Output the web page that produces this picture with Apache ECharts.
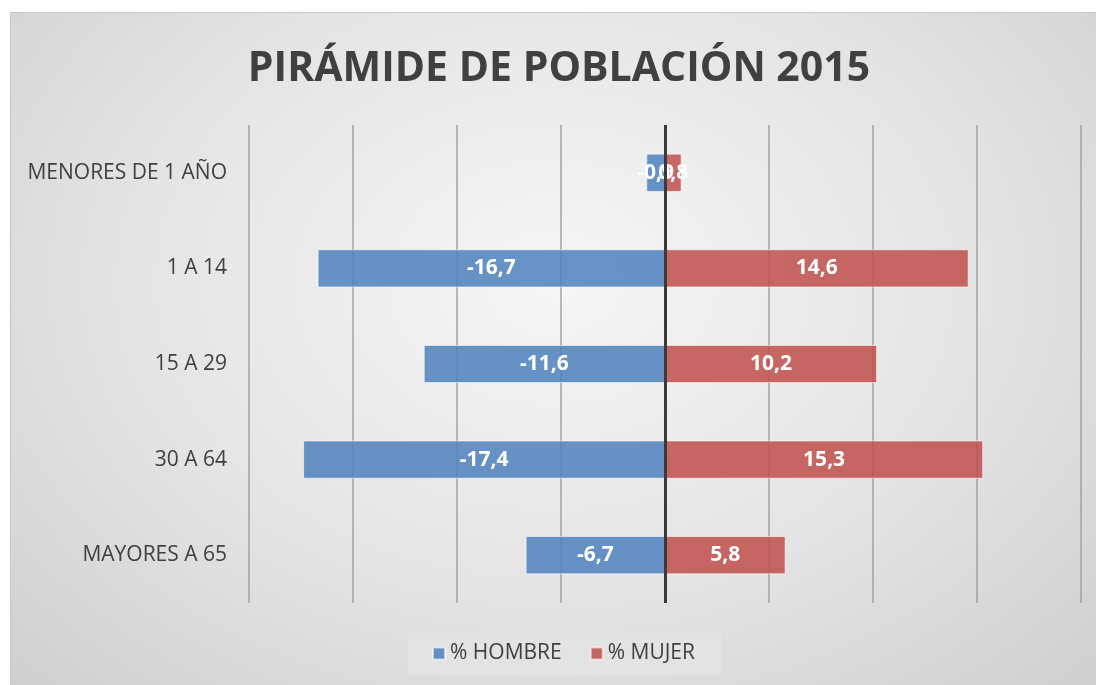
<!DOCTYPE html>
<html>
<head>
<meta charset="utf-8">
<script src="https://cdn.jsdelivr.net/npm/echarts@6/dist/echarts.min.js"></script>
<style>
  body { margin: 0; background: #fff; }
  #chart {
    position: absolute; left: 10px; top: 12px;
    width: 1086px; height: 673px;
    border-top: 1px solid #c8c8c8; border-left: 1px solid #c8c8c8;
    box-sizing: border-box;
    background: radial-gradient(ellipse at 50% 40%, #f6f6f6 0%, #e4e4e4 55%, #cfcfcf 100%);
  }
</style>
</head>
<body>
<div id="chart"></div>
<script>
// datos
var grupos = ["MENORES DE 1 AÑO", "1 A 14", "15 A 29", "30 A 64", "MAYORES A 65"];
var hombre = [-0.9, -16.7, -11.6, -17.4, -6.7];
var mujer = [0.8, 14.6, 10.2, 15.3, 5.8];

var myChart = echarts.init(document.getElementById("chart"));

function coma(p) {
  return String(p.value).replace(".", ",");
}

var option = {
  title: {
    text: "PIRÁMIDE DE POBLACIÓN 2015",
    left: 543,
    textAlign: "center",
    top: 31,
    textStyle: {
      color: "#404040",
      fontSize: 41,
      fontWeight: "bold",
      fontFamily: "Open Sans"
    }
  },
  legend: {
    left: 397,
    top: 620,
    width: 307,
    backgroundColor: "#e3e3e3",
    padding: [10, 26, 11, 24],
    itemWidth: 12,
    itemHeight: 12,
    itemGap: 28,
    icon: "rect",
    textStyle: { color: "#404040", fontSize: 21, fontFamily: "Open Sans" },
    data: ["% HOMBRE", "% MUJER"]
  },
  grid: {
    left: 238,
    right: 15,
    top: 112,
    bottom: 82
  },
  xAxis: {
    type: "value",
    min: -20,
    max: 20,
    interval: 5,
    axisLine: { show: false },
    axisTick: { show: false },
    axisLabel: { show: false },
    splitLine: { show: true, lineStyle: { color: "#a2a2a2", width: 1.5 } }
  },
  yAxis: {
    type: "category",
    inverse: true,
    data: grupos,
    axisLine: { show: false },
    axisTick: { show: false },
    axisLabel: {
      color: "#404040",
      fontSize: 21,
      fontFamily: "Open Sans",
      margin: 22
    }
  },
  series: [
    {
      name: "% HOMBRE",
      type: "bar",
      stack: "total",
      barWidth: "40%",
      data: hombre,
      itemStyle: {
        color: "rgba(79,129,189,0.86)",
        borderColor: "rgba(255,255,255,0.6)",
        borderWidth: 1
      },
      label: {
        show: true,
        position: "inside",
        formatter: coma,
        color: "#fff",
        fontSize: 21,
        fontWeight: "bold",
        fontFamily: "Open Sans"
      },
      markLine: {
        silent: true,
        symbol: "none",
        label: { show: false },
        lineStyle: { color: "#3a3a3a", width: 3, type: "solid" },
        data: [{ xAxis: 0 }],
        z: 10
      }
    },
    {
      name: "% MUJER",
      type: "bar",
      stack: "total",
      barWidth: "40%",
      data: mujer,
      itemStyle: {
        color: "rgba(192,80,77,0.86)",
        borderColor: "rgba(255,255,255,0.6)",
        borderWidth: 1
      },
      label: {
        show: true,
        position: "inside",
        formatter: coma,
        color: "#fff",
        fontSize: 21,
        fontWeight: "bold",
        fontFamily: "Open Sans"
      }
    }
  ]
};
myChart.setOption(option);
</script>
</body>
</html>
